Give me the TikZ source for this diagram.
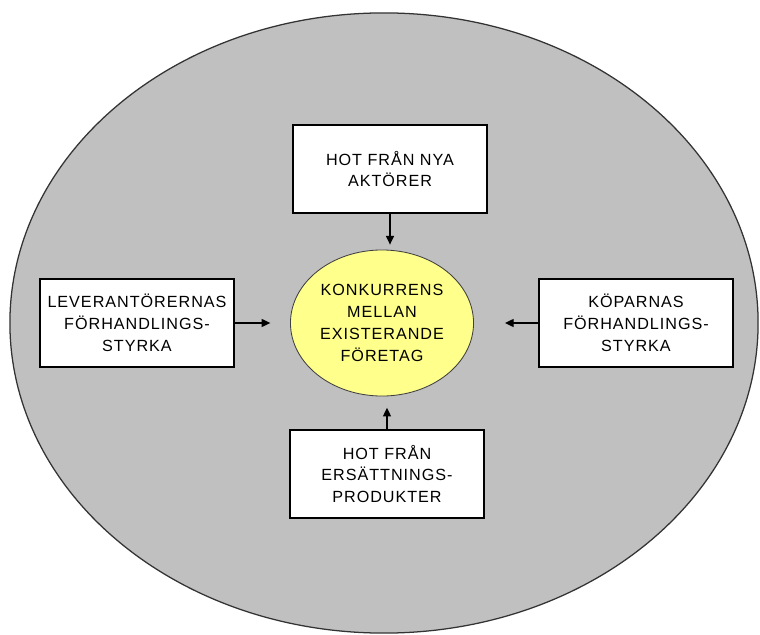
\documentclass[tikz,border=0pt]{standalone}
\usepackage{fontspec}
\usetikzlibrary{arrows.meta,shapes.geometric}
\newfontfamily\boxfont[LetterSpace=6]{Liberation Sans}
\definecolor{bggray}{RGB}{192,192,192}
\definecolor{coreyellow}{RGB}{255,255,140}

\begin{document}
\begin{tikzpicture}[x=0.025cm,y=-0.025cm]
      \useasboundingbox (0,0) rectangle (760,635);

      \node[ellipse,draw=black!80,line width=0.9pt,fill=bggray,
            minimum width=18.7cm,minimum height=15.5cm] (ring) at (384,323) {};

      \begin{scope}[every node/.style={align=center,inner sep=2pt,
            font=\boxfont\fontsize{11.5}{15.5}\selectfont}]

        \node[ellipse,draw=black!75,line width=0.6pt,fill=coreyellow,
              minimum width=4.35cm,minimum height=3.65cm] (core) at (382,323)
              {KONKURRENS\\MELLAN\\EXISTERANDE\\FÖRETAG};

        \begin{scope}[every node/.append style={draw,line width=1.2pt,fill=white,
              minimum width=4.85cm,minimum height=2.2cm}]
          \node (top) at (390,169) {HOT FRÅN NYA\\AKTÖRER};
          \node (lev) at (137,323) {LEVERANTÖRERNAS\\FÖRHANDLINGS-\\STYRKA};
          \node (kop) at (636,323) {KÖPARNAS\\FÖRHANDLINGS-\\STYRKA};
          \node (bot) at (387,474) {HOT FRÅN\\ERSÄTTNINGS-\\PRODUKTER};
        \end{scope}

      \end{scope}

      \begin{scope}[every edge/.style={draw,line width=1pt,
            -{Triangle[length=2.2mm,width=2mm]}}]
        \path (top) edge[shorten >=3.5pt] (top |- core.north);
        \path (lev) edge[shorten >=14pt] (lev -| core.west);
        \path (kop) edge[shorten >=22pt] (kop -| core.east);
        \path (bot) edge[shorten >=8pt] (bot |- core.south);
      \end{scope}

\end{tikzpicture}
\end{document}
